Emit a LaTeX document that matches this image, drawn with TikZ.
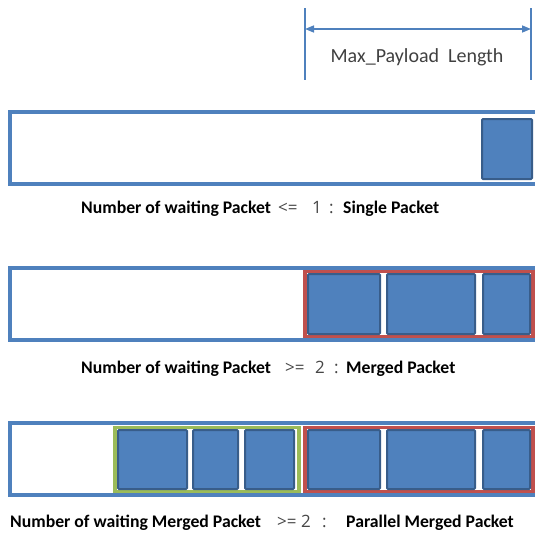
\documentclass[tikz,border=0pt]{standalone}
\usepackage{fontspec}
\setmainfont{Carlito}
\newfontfamily\opfont{Open Sans}
\usetikzlibrary{arrows.meta}
\definecolor{pblue}{RGB}{79,129,189}
\definecolor{pdark}{RGB}{56,93,138}
\definecolor{pred}{RGB}{192,80,77}
\definecolor{pgreen}{RGB}{155,187,89}
\definecolor{optext}{RGB}{70,70,70}
\definecolor{dimtext}{RGB}{64,64,64}
\begin{document}
\begin{tikzpicture}[x=1pt,y=-1pt,
  bar/.style={draw=pblue,line width=3.5pt,fill=white},
  pkt/.style={draw=pdark,fill=pblue,line width=2pt,rounded corners=1pt},
  redgrp/.style={draw=pred,line width=3.5pt},
  greengrp/.style={draw=pgreen,line width=3.5pt},
  lbl/.style={font=\fontsize{17.7}{21}\selectfont\bfseries,anchor=base west,inner sep=0pt},
  op/.style={font=\opfont\fontsize{17}{20}\selectfont,text=optext,anchor=base west,inner sep=0pt},
  dimline/.style={draw=pblue,line width=1.5pt},
  dimarrow/.style={draw=pblue,line width=1.5pt,{Triangle[length=9pt,width=7pt]}-{Triangle[length=9pt,width=7pt]}}]
\useasboundingbox (0,0) rectangle (535,541);
\begin{scope}
\clip (0,0) rectangle (535,541);
% dimension
\coordinate (dL1) at (305,8);
\coordinate (dL2) at (305,80);
\coordinate (dR1) at (531,8);
\coordinate (dR2) at (531,80);
\coordinate (dA) at (305,29);
\coordinate (dB) at (531,29);
\draw[dimline] (dL1) -- (dL2);
\draw[dimline] (dR1) -- (dR2);
\draw[dimarrow] (dA) -- (dB);
\node[font=\fontsize{20}{24}\selectfont,text=dimtext,inner sep=0pt] (maxlen) at (417,57) {Max\_Payload\ \ Length};
% bar 1
\draw[bar] (10,112) rectangle (545,184);
\draw[pkt] (482,119) rectangle (532,179);
% bar 2
\draw[bar] (10,268) rectangle (545,340);
\draw[redgrp] (305,271.5) rectangle (533,336.5);
\draw[pkt] (308,274) rectangle (380,334);
\draw[pkt] (387,274) rectangle (475,334);
\draw[pkt] (483,274) rectangle (530,334);
% bar 3
\draw[bar] (10,423) rectangle (545,495);
\draw[greengrp] (115,427.5) rectangle (299,491.5);
\draw[redgrp] (305,427.5) rectangle (533,491.5);
\draw[pkt] (118,430) rectangle (187,489);
\draw[pkt] (193,430) rectangle (238,489);
\draw[pkt] (245,430) rectangle (294,489);
\draw[pkt] (308,430) rectangle (380,489);
\draw[pkt] (387,430) rectangle (475,489);
\draw[pkt] (483,430) rectangle (530,489);
\end{scope}
% labels
\node[lbl] (l1a) at (81,213) {Number of waiting Packet};
\node[op] (l1b) at (278,213) {<=};
\node[op] (l1c) at (312,213) {1};
\node[op] (l1d) at (329,213) {:};
\node[lbl] (l1e) at (343,213) {Single Packet};
\node[lbl] (l2a) at (81,373) {Number of waiting Packet};
\node[op] (l2b) at (285,373) {>=};
\node[op] (l2c) at (315,373) {2};
\node[op] (l2d) at (334,373) {:};
\node[lbl] (l2e) at (346,373) {Merged Packet};
\node[lbl] (l3a) at (10,527) {Number of waiting Merged Packet};
\node[op] (l3b) at (277,527) {>=};
\node[op] (l3c) at (301,527) {2};
\node[op] (l3d) at (322,527) {:};
\node[lbl] (l3e) at (346,527) {Parallel Merged Packet};
\end{tikzpicture}
\end{document}
